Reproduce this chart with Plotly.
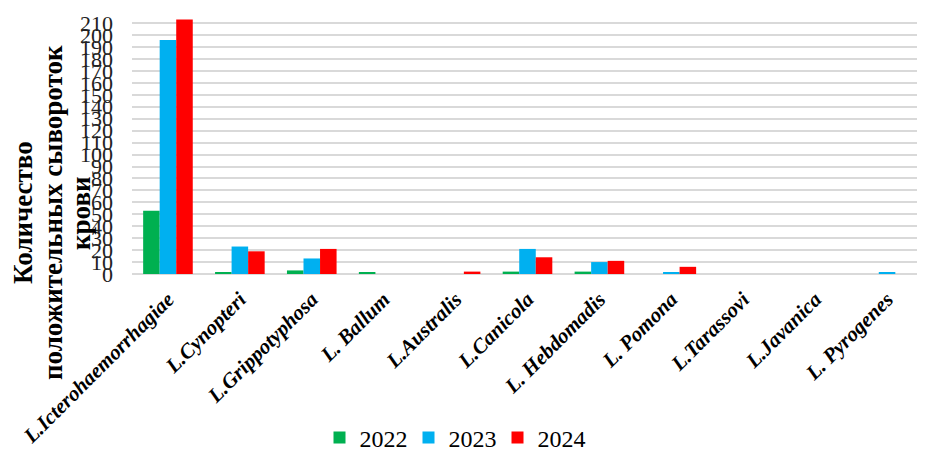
import plotly.graph_objects as go

categories = ["L.Icterohaemorrhagiae", "L.Cynopteri", "L.Grippotyphosa", "L. Ballum",
              "L.Australis", "L.Canicola", "L. Hebdomadis", "L. Pomona",
              "L.Tarassovi", "L.Javanica", "L. Pyrogenes"]
years = ["2022", "2023", "2024"]
v2022 = [53, 1, 3, 1, 0, 2, 2, 0, 0, 0, 0]
v2023 = [196, 23, 13, 0, 0, 21, 10, 1, 0, 0, 1]
v2024 = [213, 19, 21, 0, 2, 14, 11, 6, 0, 0, 0]
colors = ["#00b050", "#00b0f0", "#ff0000"]
y_ticks = list(range(0, 211, 10))
title_lines = ["Количество", "положительных сывороток", "крови"]

# page body adds an 8px offset; figure drawn at (8, 8)
OFF = 8
W, H = 925 - OFF, 452 - OFF
ml, mr, mt, mb = 132 - OFF, 2, 16 - OFF, 452 - 274

fig = go.Figure()
for name, vals, c in zip(years, [v2022, v2023, v2024], colors):
    fig.add_trace(go.Bar(x=categories, y=vals, name=name, marker_color=c,
                         marker_line_width=0))

pw, ph = W - ml - mr, H - mt - mb

fig.update_layout(
    width=W, height=H,
    margin=dict(l=ml, r=mr, t=mt, b=mb, autoexpand=False),
    paper_bgcolor="white", plot_bgcolor="white",
    barmode="group", bargap=0.31, bargroupgap=0,
    font=dict(family="Liberation Serif", color="#000000"),
    showlegend=True,
    legend=dict(orientation="h", x=(453 - 132) / pw, xanchor="center",
                y=(274 - 438) / ph, yanchor="middle",
                font=dict(size=24, family="Liberation Serif", color="#000"),
                itemwidth=30, entrywidth=44, traceorder="normal"),
)
fig.update_xaxes(
    automargin=False,
    tickangle=-45,
    tickfont=dict(size=21, family="Liberation Serif", weight="bold", style="italic", color="#000"),
    showline=False, showgrid=False, ticks="", ticklabelstandoff=8,
)
fig.update_yaxes(
    automargin=False,
    range=[0, 216], tickvals=y_ticks, ticktext=[str(t) for t in y_ticks],
    tickfont=dict(size=22, family="Liberation Serif", color="#222"),
    showgrid=True, gridcolor="#d9d9d9", gridwidth=2,
    zeroline=True, zerolinecolor="#d9d9d9", zerolinewidth=2,
    showline=False, ticks="", ticklabelstandoff=18,
)

# rotated multi-line y-axis title (screen pixel positions converted to paper coords)
xs = [23, 53, 81]
for xpx, txt in zip(xs, title_lines):
    fig.add_annotation(text="<b>" + txt + "</b>", textangle=-90,
                       x=(xpx - 132) / pw, y=(274 - 213) / ph,
                       xref="paper", yref="paper",
                       xanchor="center", yanchor="middle", showarrow=False,
                       font=dict(size=27, family="Liberation Serif", color="#000"))

fig.write_html("out.html")
